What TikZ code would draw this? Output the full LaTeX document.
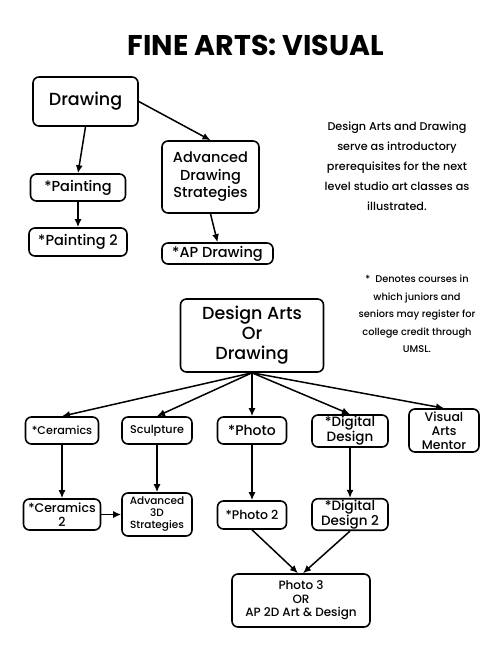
\documentclass[tikz,border=0pt]{standalone}
\usepackage{fontspec}
\setmainfont{Poppins}[UprightFont=* Medium, BoldFont=* Bold]
\usepackage{tikz}
\usetikzlibrary{arrows.meta,positioning}

\begin{document}
\begin{tikzpicture}[x=1pt,y=-1pt,
	box/.style={draw,rounded corners=6pt,line width=1.6pt,align=center,inner sep=1pt},
	link/.style={-{Latex[length=8pt,width=7pt]},line width=1.5pt}]
			\useasboundingbox (0,0) rectangle (500,650);
			% Title
			\node[font=\bfseries\fontsize{28.5}{32}\selectfont] (title) at (256,45) {FINE ARTS: VISUAL};
			
			% Drawing track
			\node[box,minimum width=105pt,minimum height=49pt,font=\fontsize{17.5}{20}\selectfont] (Dr) at (85.5,101.5) {Drawing};
			\node[box,minimum width=95pt,minimum height=27pt,font=\fontsize{14.5}{17}\selectfont] (Pa1) at (78,187.5) {*Painting};
			\node[box,minimum width=98pt,minimum height=28pt,font=\fontsize{14.5}{17}\selectfont] (Pa2) at (78,242) {*Painting 2};
			\node[box,minimum width=97pt,minimum height=72pt,font=\fontsize{14.5}{17.5}\selectfont] (ADS) at (210.5,177) {Advanced\\Drawing\\Strategies};
			\node[box,minimum width=111pt,minimum height=21pt,font=\fontsize{14.5}{17}\selectfont] (APD) at (217.5,253.5) {*AP Drawing};
			\draw[link] (Dr.south) -- (Pa1.north);
			\draw[link] (Pa1) -- (Pa2);
			\draw[link] (Dr.east) -- (ADS.north);
			\draw[link] (ADS.south) -- (APD.north);
			
			% Notes
			\node[align=center,font=\fontsize{11.2}{20}\selectfont] (note1) at (397,166) {Design Arts and Drawing\\serve as introductory\\prerequisites for the next\\level studio art classes as\\illustrated.};
			\node[align=center,font=\fontsize{9.8}{17.5}\selectfont] (note2) at (417,314) {*\ \ Denotes courses in\\which juniors and\\seniors may register for\\college credit through\\UMSL.};
			
			% Design Arts or Drawing
			\node[box,minimum width=143pt,minimum height=73pt,font=\fontsize{17.5}{20}\selectfont] (DA) at (252,335.5) {Design Arts\\Or\\Drawing};
			\node[box,minimum width=73pt,minimum height=27pt,font=\fontsize{11.2}{13}\selectfont] (Ce1) at (62,430.5) {*Ceramics};
			\node[box,minimum width=70pt,minimum height=27pt,font=\fontsize{11.2}{13}\selectfont] (Sc) at (157,430.5) {Sculpture};
			\node[box,minimum width=69pt,minimum height=27pt,font=\fontsize{14}{16}\selectfont] (Ph1) at (252,430.5) {*Photo};
			\node[box,minimum width=76pt,minimum height=32pt,font=\fontsize{13.5}{15}\selectfont] (DD1) at (350,431) {*Digital\\Design};
			\node[box,minimum width=70pt,minimum height=43pt,font=\fontsize{12.5}{14}\selectfont] (VAM) at (444,430.5) {Visual\\Arts\\Mentor};
			\draw[link] (DA.south) -- (Ce1.north);
			\draw[link] (DA.south) -- (Sc.north);
			\draw[link] (DA.south) -- (Ph1.north);
			\draw[link] (DA.south) -- (DD1.north);
			\draw[link] (DA.south) -- (VAM.north);
			
			% Second level
			\node[box,minimum width=77pt,minimum height=31pt,font=\fontsize{12.5}{14}\selectfont] (Ce2) at (62,514.5) {*Ceramics\\2};
			\node[box,minimum width=70pt,minimum height=43pt,font=\fontsize{10.5}{12}\selectfont] (A3D) at (157,514.5) {Advanced\\3D\\Strategies};
			\node[box,minimum width=69pt,minimum height=28pt,font=\fontsize{12.5}{14}\selectfont] (Ph2) at (252,515) {*Photo 2};
			\node[box,minimum width=76pt,minimum height=31pt,font=\fontsize{13.5}{15.5}\selectfont] (DD2) at (350,514.5) {*Digital\\Design 2};
			\node[box,minimum width=138pt,minimum height=53pt,font=\fontsize{12}{13.5}\selectfont] (Ph3) at (301,600.5) {Photo 3\\OR\\AP 2D Art \& Design};
			\draw[link] (Ce1) -- (Ce2);
			\draw[link] (Sc) -- (A3D);
			\draw[link] (Ph1) -- (Ph2);
			\draw[link] (DD1) -- (DD2);
			\draw[link] (Ce2) -- (A3D);
			\draw[link] (Ph2.south) -- ([xshift=-3pt]Ph3.north);
			\draw[link] (DD2.south) -- ([xshift=2pt]Ph3.north);
		\end{tikzpicture}
\end{document}
